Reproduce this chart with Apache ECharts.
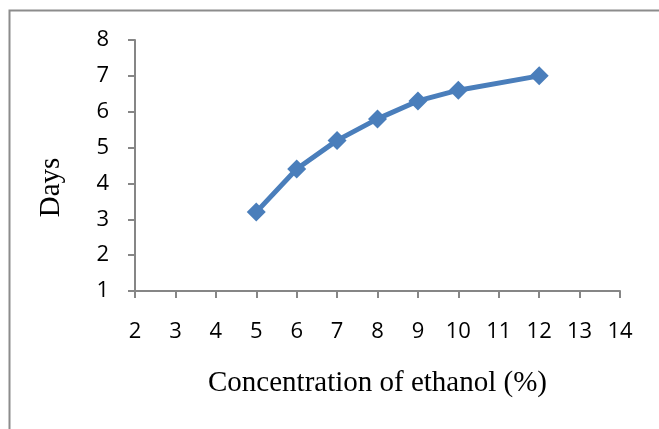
<!DOCTYPE html>
<html>
<head>
<meta charset="utf-8">
<script src="https://cdn.jsdelivr.net/npm/echarts@6/dist/echarts.min.js"></script>
<style>
html,body{margin:0;padding:0;background:#fff;}
#chart{width:659px;height:429px;}
</style>
</head>
<body>
<div id="chart"></div>
<script>
var concentration = [5, 6, 7, 8, 9, 10, 12];
var days = [3.2, 4.4, 5.2, 5.8, 6.3, 6.6, 7.0];
var xTicks = [2, 14, 1];
var yTicks = [1, 8, 1];

var points = concentration.map(function (c, i) { return [c, days[i]]; });

var chart = echarts.init(document.getElementById('chart'));
var axisColor = '#868686';
chart.setOption({
  animation: false,
  backgroundColor: '#fff',
  graphic: [{
    type: 'polyline',
    shape: { points: [[9.5, 429], [9.5, 10.5], [659, 10.5]] },
    style: { stroke: '#8c8c8c', lineWidth: 2, fill: null },
    silent: true
  }],
  grid: { left: 135, right: 39, top: 40, bottom: 138 },
  xAxis: {
    type: 'value',
    min: xTicks[0], max: xTicks[1], interval: xTicks[2],
    name: 'Concentration of ethanol (%)',
    nameLocation: 'middle',
    nameGap: 78,
    nameTextStyle: { fontFamily: 'Liberation Serif', fontSize: 29, color: '#000' },
    axisLine: { onZero: false, lineStyle: { color: axisColor, width: 2 } },
    axisTick: { show: true, inside: false, length: 7, lineStyle: { color: axisColor, width: 2 } },
    axisLabel: { margin: 30, fontFamily: 'Open Sans', fontSize: 22, color: '#000' },
    splitLine: { show: false }
  },
  yAxis: {
    type: 'value',
    min: yTicks[0], max: yTicks[1], interval: yTicks[2],
    name: 'Days',
    nameLocation: 'middle',
    nameGap: 69,
    nameTextStyle: { fontFamily: 'Liberation Serif', fontSize: 29, color: '#000', padding: [0, 44, 0, 0] },
    axisLine: { show: true, onZero: false, lineStyle: { color: axisColor, width: 2 } },
    axisTick: { show: true, inside: false, length: 7, lineStyle: { color: axisColor, width: 2 } },
    axisLabel: { margin: 26, fontFamily: 'Open Sans', fontSize: 22, color: '#000' },
    splitLine: { show: false }
  },
  series: [{
    type: 'line',
    data: points,
    symbol: 'diamond',
    symbolSize: 19,
    lineStyle: { color: '#4a7ebb', width: 5 },
    itemStyle: { color: '#4a7ebb' }
  }]
});
</script>
</body>
</html>
